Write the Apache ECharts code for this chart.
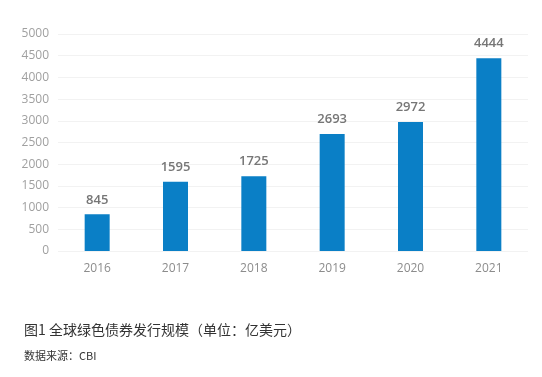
<!DOCTYPE html>
<html>
<head>
<meta charset="utf-8">
<script src="https://cdn.jsdelivr.net/npm/echarts@6/dist/echarts.min.js"></script>
<style>
  html, body { margin: 0; padding: 0; background: #fff; }
  #chart { width: 542px; height: 377px; }
</style>
</head>
<body>
<div id="chart"></div>
<script>
const years = ["2016", "2017", "2018", "2019", "2020", "2021"];
const issuance = [845, 1595, 1725, 2693, 2972, 4444];
const captionText = "图1 全球绿色债券发行规模（单位：亿美元）";
const sourceText = "数据来源：CBI";

const chart = echarts.init(document.getElementById("chart"));
chart.setOption({
    animation: false,
    textStyle: { fontFamily: "Open Sans, Noto Sans CJK SC, sans-serif" },
    title: [
        {
            text: captionText,
            left: 19,
            top: 318,
            textStyle: { fontSize: 14, fontWeight: "normal", color: "#333", fontFamily: "Noto Sans CJK SC" },
        },
        {
            text: sourceText,
            left: 19,
            top: 345,
            textStyle: { fontSize: 11, fontWeight: "normal", color: "#333", fontFamily: "Noto Sans CJK SC" },
        },
    ],
    grid: { left: 58, right: 14, top: 34, bottom: 126 },
    xAxis: {
        type: "category",
        data: years,
        axisLine: { show: false },
        axisTick: { show: false },
        axisLabel: { color: "#8c8c8c", fontSize: 12, margin: 12 },
    },
    yAxis: {
        type: "value",
        min: 0,
        max: 5000,
        interval: 500,
        axisLine: { show: false },
        axisTick: { show: false },
        axisLabel: { color: "#a0a0a0", fontSize: 12, margin: 9, formatter: (v) => String(v) },
        splitLine: { lineStyle: { color: "#f2f2f2" } },
    },
    series: [
        {
            type: "bar",
            data: issuance,
            barWidth: 25,
            itemStyle: { color: "#0a7fc6" },
            label: {
                show: true,
                position: "top",
                distance: 8,
                color: "#767676",
                fontSize: 13,
                fontWeight: 600,
            },
        },
    ],
});
</script>
</body>
</html>
